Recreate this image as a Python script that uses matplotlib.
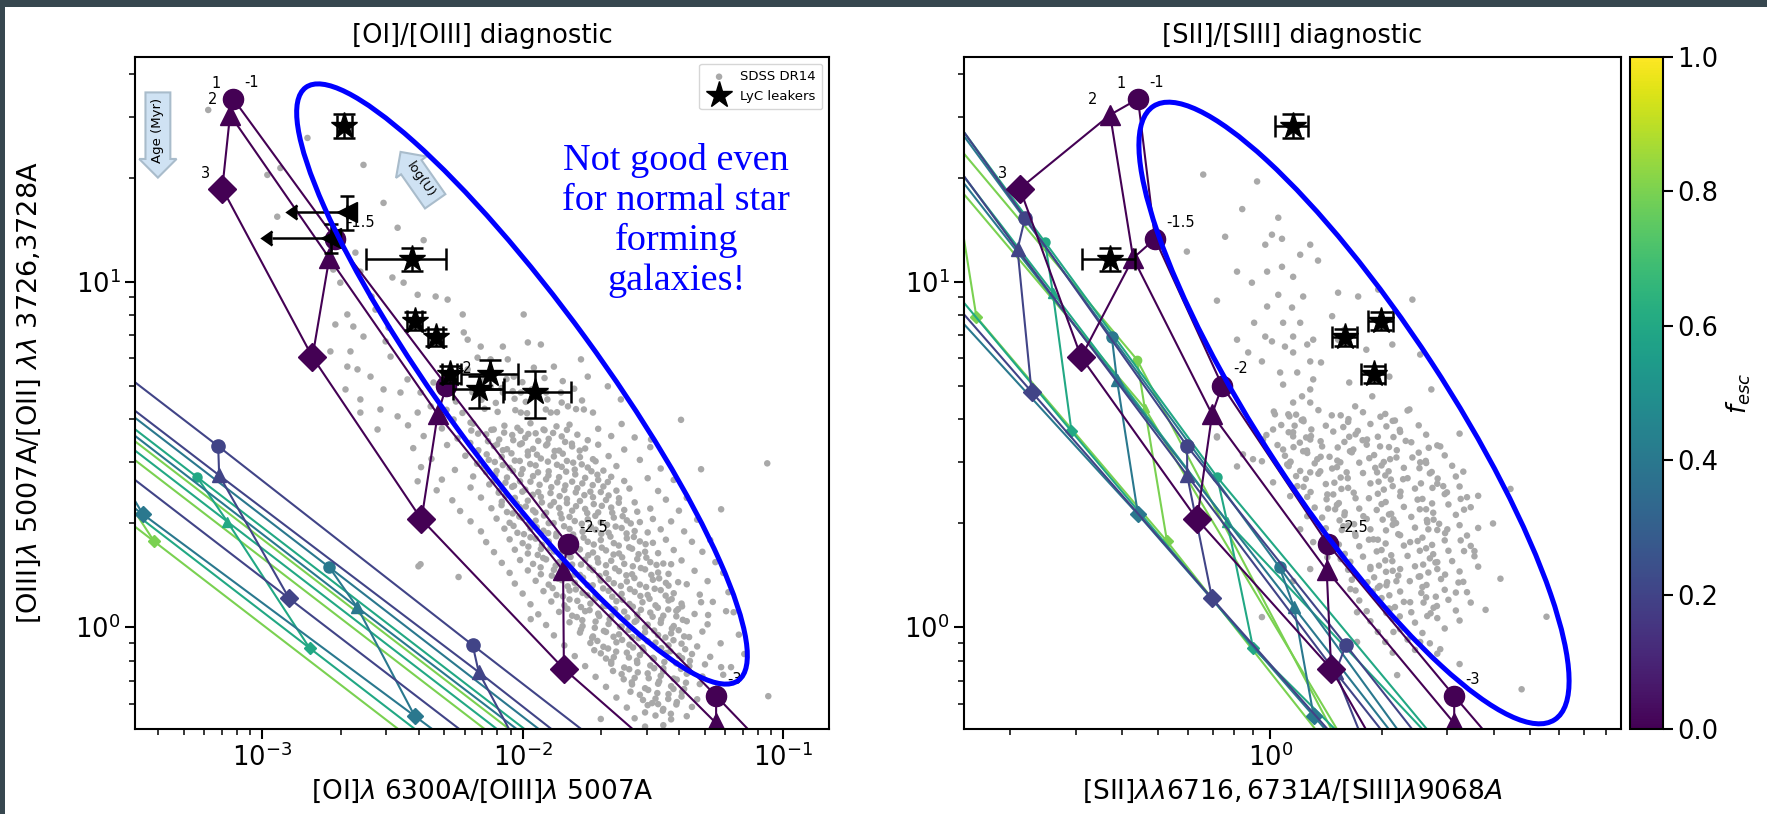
import numpy as np
import matplotlib.pyplot as plt
from matplotlib.patches import Ellipse, Rectangle

plt.rcParams['font.family'] = 'DejaVu Sans'
plt.rcParams['font.size'] = 18.5
plt.rcParams['axes.linewidth'] = 1.5
plt.rcParams['xtick.major.size'] = 7
plt.rcParams['ytick.major.size'] = 7
plt.rcParams['xtick.minor.size'] = 4
plt.rcParams['ytick.minor.size'] = 4
plt.rcParams['xtick.major.width'] = 1.5
plt.rcParams['ytick.major.width'] = 1.5
plt.rcParams['xtick.minor.width'] = 1.1
plt.rcParams['ytick.minor.width'] = 1.1

# ---- photoionisation grid -------------------------------------------------
# index order: f_esc, age (1, 2, 3 Myr), log(U) step
f_esc = [0.0, 0.2, 0.4, 0.6, 0.8]
marker_sizes = [14.5, 9.5, 8, 6.5, 6]
age_markers = ['o', '^', 'D']
age_labels = ['1', '2', '3']
logu_labels = ['-1', '-1.5', '-2', '-2.5', '-3']

grid_oiii_oii = [
    [[33.8, 13.3, 5.0, 1.74, 0.632, 0.23],
     [30.4, 11.7, 4.13, 1.46, 0.527, 0.19],
     [18.6, 6.05, 2.05, 0.757, 0.34, 0.14]],
    [[70, 15.3, 3.34, 0.887, 0.23],
     [56, 12.4, 2.75, 0.741, 0.195],
     [19.2, 4.8, 1.21, 0.33, 0.087]],
    [[31.8, 6.9, 1.49, 0.32],
     [23.7, 5.2, 1.14, 0.25],
     [8.1, 2.12, 0.553, 0.144]],
    [[62, 13.0, 2.72, 0.43],
     [42.5, 9.3, 2.02, 0.32],
     [15.7, 3.69, 0.87, 0.138]],
    [[26.6, 5.95, 0.45],
     [19.2, 4.3, 0.36],
     [7.9, 1.77, 0.17]],
]
grid_oi_oiii = [
    [[7.75e-4, 1.91e-3, 5.1e-3, 0.0149, 0.0553, 0.20],
     [7.53e-4, 1.81e-3, 4.72e-3, 0.0143, 0.0553, 0.20],
     [7.03e-4, 1.56e-3, 4.09e-3, 0.0144, 0.0484, 0.16]],
    [[3.5e-6, 4.9e-5, 6.78e-4, 6.43e-3, 0.065],
     [3.7e-6, 5.06e-5, 6.84e-4, 6.78e-3, 0.065],
     [1.1e-5, 1.18e-4, 1.27e-3, 0.012, 0.115]],
    [[9.1e-6, 1.29e-4, 1.81e-3, 0.0254],
     [1.26e-5, 1.71e-4, 2.32e-3, 0.0324],
     [3.16e-5, 3.49e-4, 3.85e-3, 0.0422]],
    [[2.5e-6, 3.8e-5, 5.62e-4, 0.0135],
     [4.0e-6, 5.3e-5, 7.35e-4, 0.0176],
     [1.05e-5, 1.26e-4, 1.52e-3, 0.0363]],
    [[1.0e-5, 1.27e-4, 0.0109],
     [1.41e-5, 1.79e-4, 0.0129],
     [2.92e-5, 3.85e-4, 0.0219]],
]
grid_sii_siii = [
    [[0.441, 0.490, 0.743, 1.43, 3.13, 7.0],
     [0.371, 0.428, 0.698, 1.42, 3.13, 7.0],
     [0.212, 0.310, 0.636, 1.46, 2.24, 5.0]],
    [[0.080, 0.219, 0.598, 1.60, 4.3],
     [0.075, 0.209, 0.598, 1.50, 4.0],
     [0.074, 0.228, 0.698, 2.03, 6.0]],
    [[0.132, 0.375, 1.06, 3.0],
     [0.129, 0.387, 1.16, 3.48],
     [0.141, 0.441, 1.31, 3.87]],
    [[0.085, 0.248, 0.72, 3.0],
     [0.088, 0.260, 0.766, 3.84],
     [0.0946, 0.292, 0.90, 5.06]],
    [[0.136, 0.438, 1.55],
     [0.142, 0.46, 1.83],
     [0.162, 0.528, 2.95]],
]

# ---- LyC leakers ------------------------------------------------------------
leaker_oiii_oii = np.array([28.2, 15.9, 13.4, 11.6, 7.7, 6.9, 5.4, 5.4, 4.9, 4.8])
leaker_y_lo = np.array([2.1, 1.8, 1.3, 0.9, 0.45, 0.4, 0.3, 0.52, 0.58, 0.76])
leaker_y_hi = np.array([2.4, 1.8, 1.3, 0.9, 0.45, 0.4, 0.3, 0.55, 0.42, 0.70])
leaker_oi = np.array([2.07e-3, 2.12e-3, 1.83e-3, 3.75e-3, 3.85e-3, 4.63e-3,
                      5.25e-3, 7.5e-3, 6.8e-3, 1.12e-2])
leaker_oi_lo = np.array([1.4e-4, 7.6e-4, 7.4e-4, 1.25e-3, 2.5e-4, 3.0e-4,
                         3.5e-4, 1.72e-3, 1.42e-3, 2.8e-3])
leaker_oi_hi = np.array([1.5e-4, 0, 0, 1.31e-3, 2.5e-4, 3.0e-4,
                         3.5e-4, 2.07e-3, 1.65e-3, 4.1e-3])
leaker_oi_limit = np.array([False, True, True, False, False, False,
                            False, False, False, False])
leaker_sii = np.array([1.153, np.nan, np.nan, 0.371, 1.99, 1.59, 1.90,
                       np.nan, np.nan, np.nan])
leaker_sii_lo = np.array([0.122, 0, 0, 0.060, 0.15, 0.12, 0.14, 0, 0, 0])
leaker_sii_hi = np.array([0.112, 0, 0, 0.062, 0.15, 0.12, 0.14, 0, 0, 0])

# ---- SDSS DR14 star-forming galaxies (log ratios) ---------------------------
sdss_log_oi = np.array([
    (-3.207, 1.497), (-2.826, 1.416), (-2.611, 1.338), (-2.930, 1.329), (-2.980, 1.309),
    (-2.534, 1.228), (-2.942, 1.188), (-2.48, 1.156), (-2.38, 1.12), (-2.642, 1.084),
    (-2.623, 1.029), (-2.727, 1.035), (-2.70, 0.997), (-2.50, 1.012), (-2.457, 0.997),
    (-2.403, 0.962), (-2.334, 0.957), (-2.288, 0.948), (-2.23, 0.905), (-2.58, 0.957),
    (-2.565, 0.919), (-2.673, 0.905), (-2.719, 0.876), (-2.65, 0.87), (-2.611, 0.841),
    (-2.515, 0.867), (-2.526, 0.827), (-2.507, 0.783), (-2.661, 0.798), (-2.673, 0.754),
    (-2.738, 0.798), (-1.996, 0.905), (-1.98, 0.824), (-1.93, 0.818), (-2.211, 0.832),
    (-2.161, 0.812), (-2.226, 0.853), (-2.076, 0.812), (-2.123, 0.775), (-2.057, 0.775),
    (-2.173, 0.78), (-2.211, 0.746), (-2.034, 0.725), (-1.957, 0.751), (-1.88, 0.754),
    (-1.776, 0.775), (-1.75, 0.725), (-1.673, 0.697), (-1.765, 0.63), (-1.853, 0.679),
    (-1.942, 0.679), (-2.007, 0.679), (-2.076, 0.679), (-1.892, 0.621), (-2.007, 0.621),
    (-1.826, 0.639), (-2.123, 0.697), (-2.392, 0.679), (-2.469, 0.679), (-2.534, 0.688),
    (-2.442, 0.717), (-2.342, 0.708), (-2.634, 0.746), (-2.584, 0.725), (-2.68, 0.688),
    (-2.623, 0.659), (-2.546, 0.63), (-2.48, 0.61), (-2.403, 0.621), (-2.353, 0.639),
    (-2.265, 0.601), (-2.2, 0.592),
    (-2.44, 0.584), (-2.31, 0.575), (-2.19, 0.589), (-2.12, 0.571), (-2.07, 0.583),
    (-2.02, 0.577), (-1.97, 0.590), (-1.92, 0.572), (-1.87, 0.581), (-1.82, 0.586),
    (-1.71, 0.574), (-1.62, 0.588),
    (-2.38, 0.553), (-2.25, 0.546), (-2.14, 0.558), (-2.09, 0.543), (-2.04, 0.556),
    (-1.99, 0.548), (-1.95, 0.561), (-1.90, 0.545), (-1.85, 0.552), (-1.79, 0.557),
    (-1.75, 0.541), (-1.66, 0.553), (-1.57, 0.549),
    (-2.42, 0.518), (-2.29, 0.527), (-2.17, 0.512), (-2.11, 0.524), (-2.06, 0.515),
    (-2.01, 0.529), (-1.96, 0.516), (-1.91, 0.526), (-1.86, 0.511), (-1.81, 0.523),
    (-1.76, 0.517), (-1.71, 0.528), (-1.61, 0.514), (-1.51, 0.521),
    (-2.35, 0.487), (-2.22, 0.496), (-2.13, 0.484), (-2.08, 0.493), (-2.03, 0.482),
    (-1.98, 0.497), (-1.93, 0.488), (-1.88, 0.494), (-1.83, 0.481), (-1.78, 0.492),
    (-1.73, 0.486), (-1.67, 0.495), (-1.55, 0.484),
    (-2.39, 0.463), (-2.26, 0.455), (-2.15, 0.466), (-2.10, 0.452), (-2.05, 0.461),
    (-2.00, 0.457), (-1.95, 0.468), (-1.90, 0.451), (-1.85, 0.464), (-1.80, 0.456),
    (-1.75, 0.462), (-1.69, 0.453), (-1.64, 0.466), (-1.47, 0.459),
    (-2.31, 0.427), (-2.19, 0.436), (-2.11, 0.424), (-2.06, 0.433), (-2.01, 0.422),
    (-1.96, 0.437), (-1.91, 0.428), (-1.86, 0.434), (-1.81, 0.421), (-1.76, 0.432),
    (-1.71, 0.426), (-1.66, 0.435), (-1.61, 0.423), (-1.52, 0.431), (-1.42, 0.426),
    (-2.33, 0.396), (-2.20, 0.404), (-2.09, 0.393), (-2.04, 0.406), (-1.99, 0.398),
    (-1.94, 0.391), (-1.89, 0.405), (-1.84, 0.397), (-1.79, 0.402), (-1.74, 0.392),
    (-1.69, 0.407), (-1.64, 0.395), (-1.59, 0.401), (-1.48, 0.394),
    (-2.27, 0.367), (-2.16, 0.375), (-2.08, 0.363), (-2.03, 0.374), (-1.98, 0.366),
    (-1.93, 0.377), (-1.88, 0.362), (-1.83, 0.371), (-1.78, 0.365), (-1.73, 0.376),
    (-1.68, 0.368), (-1.63, 0.373), (-1.57, 0.361), (-1.45, 0.369), (-1.37, 0.374),
    (-2.24, 0.336), (-2.12, 0.344), (-2.06, 0.333), (-2.01, 0.347), (-1.96, 0.338),
    (-1.91, 0.331), (-1.86, 0.345), (-1.81, 0.337), (-1.76, 0.342), (-1.71, 0.332),
    (-1.66, 0.346), (-1.61, 0.339), (-1.56, 0.334), (-1.51, 0.343), (-1.40, 0.337),
    (-2.20, 0.306), (-2.10, 0.314), (-2.05, 0.302), (-2.00, 0.316), (-1.95, 0.308),
    (-1.90, 0.301), (-1.85, 0.315), (-1.80, 0.307), (-1.75, 0.312), (-1.70, 0.303),
    (-1.65, 0.317), (-1.60, 0.309), (-1.55, 0.304), (-1.50, 0.313), (-1.43, 0.306),
    (-1.33, 0.311),
    (-2.16, 0.277), (-2.07, 0.285), (-2.02, 0.273), (-1.97, 0.286), (-1.92, 0.279),
    (-1.87, 0.271), (-1.82, 0.284), (-1.77, 0.276), (-1.72, 0.282), (-1.67, 0.273),
    (-1.62, 0.287), (-1.57, 0.278), (-1.52, 0.274), (-1.47, 0.283), (-1.38, 0.277),
    (-2.14, 0.246), (-2.05, 0.254), (-2.00, 0.243), (-1.95, 0.256), (-1.90, 0.248),
    (-1.85, 0.241), (-1.80, 0.255), (-1.75, 0.247), (-1.70, 0.252), (-1.65, 0.243),
    (-1.60, 0.257), (-1.55, 0.248), (-1.50, 0.244), (-1.45, 0.253), (-1.35, 0.247),
    (-1.28, 0.252),
    (-2.11, 0.217), (-2.03, 0.224), (-1.98, 0.213), (-1.93, 0.226), (-1.88, 0.219),
    (-1.83, 0.211), (-1.78, 0.225), (-1.73, 0.216), (-1.68, 0.222), (-1.63, 0.213),
    (-1.58, 0.227), (-1.53, 0.218), (-1.48, 0.214), (-1.42, 0.223), (-1.31, 0.218),
    (-2.08, 0.186), (-2.01, 0.194), (-1.96, 0.183), (-1.91, 0.196), (-1.86, 0.188),
    (-1.81, 0.181), (-1.76, 0.195), (-1.71, 0.187), (-1.66, 0.192), (-1.61, 0.183),
    (-1.56, 0.197), (-1.51, 0.188), (-1.46, 0.184), (-1.39, 0.193), (-1.26, 0.188),
    (-2.05, 0.157), (-1.98, 0.164), (-1.93, 0.153), (-1.88, 0.166), (-1.83, 0.159),
    (-1.78, 0.151), (-1.73, 0.165), (-1.68, 0.156), (-1.63, 0.162), (-1.58, 0.153),
    (-1.53, 0.167), (-1.48, 0.158), (-1.44, 0.154), (-1.34, 0.163), (-1.23, 0.157),
    (-2.03, 0.126), (-1.95, 0.134), (-1.90, 0.123), (-1.85, 0.136), (-1.80, 0.128),
    (-1.75, 0.121), (-1.70, 0.135), (-1.65, 0.127), (-1.60, 0.132), (-1.55, 0.123),
    (-1.50, 0.137), (-1.45, 0.128), (-1.37, 0.124), (-1.29, 0.133),
    (-2.00, 0.097), (-1.92, 0.104), (-1.87, 0.093), (-1.82, 0.106), (-1.77, 0.099),
    (-1.72, 0.091), (-1.67, 0.105), (-1.62, 0.096), (-1.57, 0.102), (-1.52, 0.093),
    (-1.47, 0.107), (-1.42, 0.098), (-1.32, 0.094), (-1.21, 0.101),
    (-1.97, 0.066), (-1.89, 0.074), (-1.84, 0.063), (-1.79, 0.076), (-1.74, 0.068),
    (-1.69, 0.061), (-1.64, 0.075), (-1.59, 0.067), (-1.54, 0.072), (-1.49, 0.063),
    (-1.44, 0.077), (-1.39, 0.068), (-1.27, 0.073),
    (-1.94, 0.037), (-1.86, 0.044), (-1.81, 0.033), (-1.76, 0.046), (-1.71, 0.039),
    (-1.66, 0.031), (-1.61, 0.045), (-1.56, 0.036), (-1.51, 0.042), (-1.46, 0.033),
    (-1.41, 0.047), (-1.34, 0.038), (-1.19, 0.043),
    (-1.91, 0.006), (-1.82, 0.014), (-1.77, 0.003), (-1.72, 0.016), (-1.67, 0.009),
    (-1.62, 0.001), (-1.57, 0.015), (-1.52, 0.007), (-1.47, 0.012), (-1.42, 0.003),
    (-1.37, 0.017), (-1.29, 0.008),
    (-1.88, -0.024), (-1.78, -0.016), (-1.73, -0.027), (-1.68, -0.014), (-1.63, -0.021),
    (-1.58, -0.029), (-1.53, -0.015), (-1.48, -0.023), (-1.43, -0.018), (-1.38, -0.027),
    (-1.31, -0.013), (-1.17, -0.022),
    (-1.84, -0.053), (-1.74, -0.046), (-1.69, -0.057), (-1.64, -0.044), (-1.59, -0.051),
    (-1.54, -0.059), (-1.49, -0.045), (-1.44, -0.053), (-1.39, -0.048), (-1.33, -0.056),
    (-1.24, -0.047),
    (-1.80, -0.084), (-1.70, -0.076), (-1.65, -0.087), (-1.60, -0.074), (-1.55, -0.081),
    (-1.50, -0.089), (-1.45, -0.075), (-1.40, -0.083), (-1.35, -0.078), (-1.28, -0.086),
    (-1.76, -0.113), (-1.66, -0.106), (-1.61, -0.117), (-1.56, -0.104), (-1.51, -0.111),
    (-1.46, -0.119), (-1.41, -0.105), (-1.36, -0.113), (-1.30, -0.108), (-1.20, -0.116),
    (-1.72, -0.144), (-1.62, -0.136), (-1.57, -0.147), (-1.52, -0.134), (-1.47, -0.141),
    (-1.42, -0.149), (-1.37, -0.135), (-1.31, -0.143), (-1.23, -0.138),
    (-1.68, -0.173), (-1.58, -0.166), (-1.53, -0.177), (-1.48, -0.164), (-1.43, -0.171),
    (-1.38, -0.179), (-1.32, -0.165), (-1.25, -0.174),
    (-1.64, -0.204), (-1.55, -0.196), (-1.49, -0.207), (-1.44, -0.194), (-1.39, -0.201),
    (-1.33, -0.209), (-1.27, -0.198),
    (-1.60, -0.233), (-1.52, -0.226), (-1.46, -0.237), (-1.41, -0.224), (-1.35, -0.231),
    (-1.57, -0.264), (-1.49, -0.256), (-1.43, -0.267), (-1.37, -0.258),
    (-1.53, -0.288), (-1.46, -0.284),
    (-2.403, 0.422), (-2.40, 0.176), (-2.246, 0.145), (-2.557, 0.572), (-2.623, 0.621),
    (-2.392, 0.182), (-1.969, 0.023), (-1.70, -0.266), (-1.48, -0.223), (-1.057, -0.20),
    (-1.238, -0.116), (-1.403, 0.052), (-1.315, 0.072), (-1.288, 0.035), (-1.219, 0.046),
    (-1.149, -0.078), (-1.403, 0.13), (-1.43, 0.182), (-1.061, 0.474), (-1.392, 0.60),
    (-1.315, 0.457), (-1.238, 0.341), (-1.507, 0.543), (-1.623, 0.659),
    # densest part of the locus
    (-2.292, 0.629), (-2.231, 0.620), (-2.146, 0.632), (-2.096, 0.623), (-2.028, 0.628),
    (-1.983, 0.619), (-1.911, 0.630), (-1.868, 0.622), (-1.795, 0.631), (-1.730, 0.621),
    (-2.256, 0.653), (-2.158, 0.658), (-2.103, 0.649), (-2.031, 0.661), (-1.988, 0.652),
    (-1.905, 0.659), (-1.850, 0.650), (-1.772, 0.656),
    (-2.268, 0.689), (-2.193, 0.680), (-2.081, 0.692), (-2.038, 0.683), (-1.965, 0.688),
    (-1.910, 0.679), (-1.802, 0.690),
    (-2.150, 0.713), (-2.062, 0.718), (-2.001, 0.709), (-1.916, 0.721), (-1.846, 0.712),
    (-2.197, 0.569), (-2.171, 0.560), (-2.111, 0.572), (-2.071, 0.563), (-2.008, 0.568),
    (-1.978, 0.559), (-1.916, 0.570), (-1.883, 0.562), (-1.830, 0.571),
    (-2.201, 0.533), (-2.133, 0.538), (-2.098, 0.529), (-2.036, 0.541), (-2.003, 0.532),
    (-1.940, 0.539), (-1.905, 0.530), (-1.837, 0.536), (-1.811, 0.531),
    (-2.173, 0.509), (-2.138, 0.500), (-2.076, 0.512), (-2.043, 0.503), (-1.980, 0.508),
    (-1.945, 0.499), (-1.877, 0.510), (-1.846, 0.502), (-1.781, 0.511),
    (-2.175, 0.473), (-2.107, 0.478), (-2.076, 0.469), (-2.011, 0.481), (-1.971, 0.472),
    (-1.903, 0.479), (-1.868, 0.470), (-1.806, 0.476), (-1.773, 0.471), (-1.720, 0.480),
    (-2.140, 0.449), (-2.105, 0.440), (-2.037, 0.452), (-2.006, 0.443), (-1.941, 0.448),
    (-1.901, 0.439), (-1.833, 0.450), (-1.798, 0.442), (-1.736, 0.451), (-1.713, 0.441),
    (-2.128, 0.413), (-2.066, 0.418), (-2.033, 0.409), (-1.970, 0.421), (-1.935, 0.412),
    (-1.867, 0.419), (-1.836, 0.410), (-1.771, 0.416), (-1.731, 0.411), (-1.673, 0.420),
    (-2.092, 0.389), (-2.066, 0.380), (-2.001, 0.392), (-1.961, 0.383), (-1.893, 0.388),
    (-1.858, 0.379), (-1.796, 0.390), (-1.763, 0.382), (-1.700, 0.391), (-1.670, 0.381),
    (-2.081, 0.353), (-2.023, 0.358), (-1.988, 0.349), (-1.926, 0.361), (-1.893, 0.352),
    (-1.830, 0.359), (-1.795, 0.350), (-1.727, 0.356), (-1.696, 0.351), (-1.631, 0.360),
    (-2.038, 0.329), (-2.013, 0.320), (-1.951, 0.332), (-1.918, 0.323), (-1.855, 0.328),
    (-1.820, 0.319), (-1.752, 0.330), (-1.721, 0.322), (-1.656, 0.331), (-1.616, 0.321),
    (-2.035, 0.293), (-1.977, 0.298), (-1.946, 0.289), (-1.881, 0.301), (-1.841, 0.292),
    (-1.773, 0.299), (-1.738, 0.290), (-1.676, 0.296), (-1.643, 0.291), (-1.585, 0.300),
    (-1.995, 0.269), (-1.970, 0.260), (-1.902, 0.272), (-1.871, 0.263), (-1.806, 0.268),
    (-1.766, 0.259), (-1.698, 0.270), (-1.663, 0.262), (-1.601, 0.271), (-1.573, 0.261),
    (-1.978, 0.233), (-1.926, 0.238), (-1.893, 0.229), (-1.830, 0.241), (-1.795, 0.232),
    (-1.727, 0.239), (-1.696, 0.230), (-1.631, 0.236), (-1.591, 0.231), (-1.528, 0.240),
    (-1.942, 0.209), (-1.921, 0.200), (-1.856, 0.212), (-1.816, 0.203), (-1.748, 0.208),
    (-1.713, 0.199), (-1.651, 0.210), (-1.618, 0.202), (-1.555, 0.211), (-1.525, 0.201),
    (-1.931, 0.173), (-1.873, 0.178), (-1.838, 0.169), (-1.776, 0.181), (-1.743, 0.172),
    (-1.680, 0.179), (-1.645, 0.170), (-1.577, 0.176), (-1.546, 0.171), (-1.486, 0.180),
    (-1.888, 0.149), (-1.863, 0.140), (-1.801, 0.152), (-1.768, 0.143), (-1.705, 0.148),
    (-1.670, 0.139), (-1.602, 0.150), (-1.571, 0.142), (-1.506, 0.151), (-1.476, 0.141),
    (-1.885, 0.113), (-1.827, 0.118), (-1.796, 0.109), (-1.731, 0.121), (-1.691, 0.112),
    (-1.623, 0.119), (-1.588, 0.110), (-1.526, 0.116), (-1.493, 0.111), (-1.440, 0.120),
    (-1.845, 0.089), (-1.820, 0.080), (-1.752, 0.092), (-1.721, 0.083), (-1.656, 0.088),
    (-1.616, 0.079), (-1.548, 0.090), (-1.513, 0.082), (-1.451, 0.091), (-1.428, 0.081),
    (-1.828, 0.053), (-1.776, 0.058), (-1.743, 0.049), (-1.680, 0.061), (-1.645, 0.052),
    (-1.577, 0.059), (-1.546, 0.050), (-1.481, 0.056), (-1.441, 0.051), (-1.388, 0.060),
    (-1.792, 0.029), (-1.771, 0.020), (-1.706, 0.032), (-1.666, 0.023), (-1.598, 0.028),
    (-1.563, 0.019), (-1.501, 0.030), (-1.468, 0.022), (-1.410, 0.031), (-1.385, 0.021),
    (-1.776, -0.007), (-1.723, -0.002), (-1.688, -0.011), (-1.626, 0.001), (-1.593, -0.008),
    (-1.530, -0.001), (-1.495, -0.010), (-1.427, -0.004), (-1.401, -0.009),
    (-1.733, -0.031), (-1.713, -0.040), (-1.651, -0.028), (-1.618, -0.037), (-1.555, -0.032),
    (-1.520, -0.041), (-1.452, -0.030), (-1.421, -0.038), (-1.361, -0.029),
    (-1.725, -0.067), (-1.672, -0.062), (-1.641, -0.071), (-1.576, -0.059), (-1.536, -0.068),
    (-1.468, -0.061), (-1.433, -0.070), (-1.376, -0.064),
    (-1.680, -0.091), (-1.660, -0.100), (-1.592, -0.088), (-1.561, -0.097), (-1.496, -0.092),
    (-1.456, -0.101), (-1.388, -0.090), (-1.358, -0.098),
    (-1.653, -0.127), (-1.591, -0.122), (-1.558, -0.131), (-1.495, -0.119), (-1.460, -0.128),
    (-1.392, -0.121), (-1.361, -0.130),
    (-1.612, -0.151), (-1.581, -0.160), (-1.516, -0.148), (-1.476, -0.157), (-1.408, -0.152),
    (-1.373, -0.161),
    (-1.586, -0.187), (-1.518, -0.182), (-1.483, -0.191), (-1.421, -0.179), (-1.388, -0.188),
    (-1.538, -0.211), (-1.503, -0.220), (-1.441, -0.208), (-1.408, -0.217),
    (-1.530, -0.247), (-1.462, -0.242), (-1.431, -0.251),
])

sdss_log_sii = np.array([
    (-0.18, 1.31), (-0.035, 1.29), (-0.075, 1.21), (0.022, 1.185), (-0.121, 1.13),
    (0.005, 1.136), (0.032, 1.124), (0.108, 1.107), (-0.013, 1.107), (-0.224, 1.087),
    (0.081, 1.078), (0.129, 1.061), (-0.089, 1.029), (-0.049, 0.997), (-0.008, 1.029),
    (0.032, 1.043), (0.062, 1.014), (0.089, 0.957), (0.022, 0.962), (0.059, 0.925),
    (-0.008, 0.928), (-0.143, 0.945), (-0.043, 0.881), (0.035, 0.881), (0.081, 0.881),
    (0.062, 0.841), (0.10, 0.818), (-0.089, 0.832), (-0.013, 0.841), (0.005, 0.827),
    (0.040, 0.812), (0.116, 0.832), (-0.059, 0.795), (-0.022, 0.769), (0.062, 0.795),
    (0.108, 0.769), (0.073, 0.737), (0.116, 0.717), (0.027, 0.737), (0.035, 0.702),
    (0.086, 0.668), (0.108, 0.65), (0.062, 0.65), (0.049, 0.616), (0.089, 0.601),
    (0.013, 0.616), (0.008, 0.572), (0.062, 0.564), (0.108, 0.543), (0.089, 0.509),
    (0.035, 0.514), (-0.019, 0.543), (-0.046, 0.486), (0.046, 0.471), (0.127, 0.486),
    (-0.143, 0.552), (-0.089, 0.465), (0.062, 1.434),
    (0.383, 0.948), (0.291, 0.977), (0.237, 0.957), (0.183, 0.968), (0.167, 0.90),
    (0.2, 0.861), (0.259, 0.803), (0.329, 0.818), (0.434, 0.688), (0.375, 0.63),
    (0.404, 0.789), (0.183, 0.832), (0.137, 0.766), (0.213, 0.708), (0.275, 0.668),
    (0.321, 0.725), (0.229, 0.639), (0.108, 0.688),
    (-0.143, 0.549), (-0.073, 0.50), (-0.022, 0.48), (0.054, 0.477), (0.062, 0.552),
    (0.108, 0.448), (0.10, 0.321), (0.154, 0.384), (0.135, 0.451), (0.175, 0.341),
    (0.197, 0.292), (0.189, 0.477), (0.224, 0.514), (0.261, 0.543), (0.288, 0.448),
    (0.323, 0.486), (0.358, 0.428), (0.404, 0.477), (0.458, 0.523), (0.466, 0.408),
    (0.332, 0.312), (0.278, 0.254), (0.251, 0.321), (0.377, 0.246), (0.423, 0.303),
    (0.477, 0.283), (0.27, 0.168), (0.315, 0.13), (0.35, 0.168), (0.404, 0.147),
    (0.45, 0.188), (0.323, 0.052), (0.377, 0.072), (0.423, 0.032), (0.332, -0.014),
    (0.404, -0.043), (0.458, -0.064), (0.234, -0.043), (0.234, 0.043), (0.216, 0.11),
    (-0.022, 0.029), (0.062, 0.133), (0.108, 0.168), (0.154, 0.202), (0.081, 0.283),
    (0.116, 0.246), (0.054, 0.379), (0.008, 0.419), (0.073, 0.408),
    (0.52, 0.45), (0.56, 0.38), (0.60, 0.30), (0.55, 0.22), (0.62, 0.14),
    (0.50, 0.10), (0.58, 0.05), (0.647, 0.40), (0.51, 0.56), (0.744, 0.03),
    (0.51, -0.107), (0.677, -0.18), (0.342, -0.139), (0.313, 0.121),
    (0.01, 0.624), (0.07, 0.615), (0.13, 0.628), (0.19, 0.613), (0.25, 0.622),
    (0.31, 0.617), (0.37, 0.627),
    (0.03, 0.585), (0.09, 0.596), (0.15, 0.583), (0.21, 0.594), (0.27, 0.588),
    (0.33, 0.597), (0.40, 0.584),
    (-0.01, 0.556), (0.05, 0.564), (0.11, 0.553), (0.17, 0.566), (0.23, 0.558),
    (0.29, 0.551), (0.35, 0.565), (0.42, 0.557),
    (0.02, 0.527), (0.08, 0.534), (0.14, 0.523), (0.20, 0.536), (0.26, 0.528),
    (0.32, 0.521), (0.38, 0.535), (0.45, 0.526),
    (0.04, 0.496), (0.10, 0.504), (0.16, 0.493), (0.22, 0.506), (0.28, 0.498),
    (0.34, 0.491), (0.40, 0.505), (0.47, 0.497),
    (0.05, 0.466), (0.12, 0.474), (0.18, 0.463), (0.24, 0.476), (0.30, 0.468),
    (0.36, 0.461), (0.42, 0.475), (0.49, 0.467),
    (0.07, 0.437), (0.13, 0.444), (0.19, 0.433), (0.25, 0.446), (0.31, 0.439),
    (0.37, 0.431), (0.43, 0.445), (0.50, 0.436),
    (0.09, 0.406), (0.15, 0.414), (0.21, 0.403), (0.27, 0.416), (0.33, 0.408),
    (0.39, 0.401), (0.45, 0.415), (0.51, 0.407),
    (0.10, 0.377), (0.17, 0.384), (0.23, 0.373), (0.29, 0.386), (0.35, 0.379),
    (0.41, 0.371), (0.47, 0.385), (0.53, 0.376),
    (0.12, 0.346), (0.18, 0.354), (0.24, 0.343), (0.30, 0.356), (0.36, 0.348),
    (0.42, 0.341), (0.48, 0.355), (0.54, 0.347),
    (0.14, 0.317), (0.20, 0.324), (0.26, 0.313), (0.32, 0.326), (0.38, 0.319),
    (0.44, 0.311), (0.50, 0.325),
    (0.15, 0.286), (0.21, 0.294), (0.27, 0.283), (0.33, 0.296), (0.39, 0.288),
    (0.45, 0.281), (0.51, 0.295), (0.56, 0.287),
    (0.17, 0.257), (0.23, 0.264), (0.29, 0.253), (0.35, 0.266), (0.41, 0.259),
    (0.47, 0.251), (0.53, 0.265),
    (0.18, 0.226), (0.24, 0.234), (0.30, 0.223), (0.36, 0.236), (0.42, 0.228),
    (0.48, 0.221), (0.54, 0.235),
    (0.19, 0.197), (0.25, 0.204), (0.31, 0.193), (0.37, 0.206), (0.43, 0.199),
    (0.49, 0.191), (0.55, 0.205),
    (0.21, 0.166), (0.27, 0.174), (0.33, 0.163), (0.39, 0.176), (0.45, 0.168),
    (0.51, 0.161), (0.56, 0.175),
    (0.22, 0.137), (0.28, 0.144), (0.34, 0.133), (0.40, 0.146), (0.46, 0.139),
    (0.52, 0.131),
    (0.23, 0.106), (0.29, 0.114), (0.35, 0.103), (0.41, 0.116), (0.47, 0.108),
    (0.53, 0.101),
    (0.24, 0.077), (0.30, 0.084), (0.36, 0.073), (0.42, 0.086), (0.48, 0.079),
    (0.54, 0.071),
    (0.26, 0.046), (0.32, 0.054), (0.38, 0.043), (0.44, 0.056), (0.50, 0.048),
    (0.27, 0.017), (0.33, 0.024), (0.39, 0.013), (0.45, 0.026), (0.51, 0.019),
    (0.29, -0.014), (0.35, -0.006), (0.41, -0.017), (0.47, -0.004),
    (0.31, -0.043), (0.37, -0.036), (0.43, -0.047),
    (0.33, -0.074), (0.39, -0.066), (0.45, -0.077),
    # central clump
    (0.052, 0.610), (0.085, 0.599), (0.166, 0.613), (0.211, 0.602), (0.297, 0.609),
    (0.336, 0.598),
    (0.066, 0.583), (0.111, 0.572), (0.197, 0.579), (0.236, 0.568), (0.313, 0.581),
    (0.349, 0.571),
    (0.097, 0.549), (0.136, 0.538), (0.213, 0.551), (0.249, 0.541), (0.332, 0.550),
    (0.365, 0.539),
    (0.063, 0.521), (0.099, 0.511), (0.182, 0.520), (0.215, 0.509), (0.296, 0.523),
    (0.341, 0.512), (0.427, 0.519),
    (0.055, 0.479), (0.136, 0.493), (0.181, 0.482), (0.267, 0.489), (0.306, 0.478),
    (0.383, 0.491), (0.419, 0.481),
    (0.081, 0.452), (0.167, 0.459), (0.206, 0.448), (0.283, 0.461), (0.319, 0.451),
    (0.402, 0.460), (0.435, 0.449),
    (0.096, 0.429), (0.173, 0.418), (0.209, 0.431), (0.292, 0.421), (0.325, 0.427),
    (0.406, 0.416), (0.451, 0.430),
    (0.109, 0.391), (0.192, 0.400), (0.225, 0.389), (0.306, 0.398), (0.351, 0.392),
    (0.437, 0.403), (0.476, 0.390),
    (0.152, 0.370), (0.185, 0.359), (0.266, 0.373), (0.311, 0.362), (0.397, 0.369),
    (0.436, 0.358), (0.513, 0.371),
    (0.156, 0.343), (0.201, 0.332), (0.287, 0.339), (0.326, 0.328), (0.403, 0.341),
    (0.439, 0.331), (0.522, 0.340),
    (0.187, 0.309), (0.226, 0.298), (0.303, 0.311), (0.339, 0.301), (0.422, 0.310),
    (0.455, 0.299),
    (0.193, 0.281), (0.229, 0.271), (0.312, 0.280), (0.345, 0.269), (0.426, 0.283),
    (0.471, 0.272),
    (0.185, 0.239), (0.266, 0.253), (0.311, 0.242), (0.397, 0.249), (0.436, 0.238),
    (0.513, 0.251),
    (0.201, 0.212), (0.287, 0.219), (0.326, 0.208), (0.403, 0.221), (0.439, 0.211),
    (0.522, 0.220),
    (0.216, 0.189), (0.293, 0.178), (0.329, 0.191), (0.412, 0.181), (0.445, 0.187),
    (0.229, 0.151), (0.312, 0.160), (0.345, 0.149), (0.426, 0.158), (0.471, 0.152),
    (0.262, 0.130), (0.295, 0.119), (0.376, 0.133), (0.421, 0.122), (0.507, 0.129),
    (0.276, 0.103), (0.321, 0.092), (0.407, 0.099), (0.446, 0.088),
    (0.297, 0.069), (0.336, 0.058), (0.413, 0.071), (0.449, 0.061),
    (0.313, 0.041), (0.349, 0.031), (0.432, 0.040),
])

W, H = 1767, 814
fig = plt.figure(figsize=(W / 100, H / 100), dpi=100)
fig.patch.set_facecolor('#37474f')
fig.add_artist(Rectangle((5 / W, 0), 1 - 5 / W, 1 - 7 / H, transform=fig.transFigure,
                         facecolor='white', edgecolor='none', zorder=-10))

ax1 = fig.add_axes([135 / W, 85 / H, 694 / W, 672 / H])
ax2 = fig.add_axes([964 / W, 85 / H, 657 / W, 672 / H])
cax = fig.add_axes([1630 / W, 85 / H, 33 / W, 672 / H])

cmap = plt.get_cmap('viridis')
sdss_grey = '#a9a9a9'

ax1.scatter(10 ** sdss_log_oi[:, 0], 10 ** sdss_log_oi[:, 1], s=22, color=sdss_grey,
            edgecolors='none', zorder=1, label='SDSS DR14')
ax2.scatter(10 ** sdss_log_sii[:, 0], 10 ** sdss_log_sii[:, 1], s=22, color=sdss_grey,
            edgecolors='none', zorder=1)

for ax, grid_x in ((ax1, grid_oi_oiii), (ax2, grid_sii_siii)):
    for k in range(len(f_esc) - 1, -1, -1):
        col = cmap(f_esc[k])
        xs, ys = grid_x[k], grid_oiii_oii[k]
        for a in range(3):
            ax.plot(xs[a], ys[a], color=col, lw=1.5, marker=age_markers[a],
                    ms=marker_sizes[k], zorder=2)
        for i in range(len(ys[0])):
            ax.plot([xs[a][i] for a in range(3)], [ys[a][i] for a in range(3)],
                    color=col, lw=1.5, zorder=2)
    # age and log(U) labels along the f_esc = 0 track
    xs, ys = grid_x[0], grid_oiii_oii[0]
    for a in range(3):
        ax.annotate(age_labels[a], (xs[a][0], ys[a][0]), xytext=(-9, 11),
                    textcoords='offset points', ha='right', va='center', fontsize=10.5)
    for i, lab in enumerate(logu_labels):
        ax.annotate(lab, (xs[0][i], ys[0][i]), xytext=(8, 12),
                    textcoords='offset points', ha='left', va='center', fontsize=10.5)

# leakers: [OI]/[OIII] panel
ok = ~leaker_oi_limit
ax1.errorbar(leaker_oi[ok], leaker_oiii_oii[ok],
             xerr=[leaker_oi_lo[ok], leaker_oi_hi[ok]],
             yerr=[leaker_y_lo[ok], leaker_y_hi[ok]],
             fmt='none', ecolor='k', elinewidth=1.8, capsize=8, capthick=1.8, zorder=4)
lim = ax1.errorbar(leaker_oi[~ok], leaker_oiii_oii[~ok],
                   xerr=[leaker_oi_lo[~ok], leaker_oi_hi[~ok]],
                   yerr=[leaker_y_lo[~ok], leaker_y_hi[~ok]], xuplims=True,
                   fmt='none', ecolor='k', elinewidth=1.8, capsize=5, capthick=1.8,
                   zorder=4)
for cap in lim.lines[1]:
    cap.set_color('k')
    cap.set_markerfacecolor('k')
    cap.set_markeredgecolor('k')
ax1.plot(leaker_oi[ok], leaker_oiii_oii[ok], '*', color='k', ms=20, zorder=5,
         label='LyC leakers')
ax1.plot(leaker_oi[~ok], leaker_oiii_oii[~ok], '<', color='k', ms=14, zorder=5)

# leakers: [SII]/[SIII] panel
has = ~np.isnan(leaker_sii)
ax2.errorbar(leaker_sii[has], leaker_oiii_oii[has],
             xerr=[leaker_sii_lo[has], leaker_sii_hi[has]],
             yerr=[leaker_y_lo[has], leaker_y_hi[has]],
             fmt='none', ecolor='k', elinewidth=1.8, capsize=8, capthick=1.8, zorder=4)
ax2.plot(leaker_sii[has], leaker_oiii_oii[has], '*', color='k', ms=20, zorder=5)

for ax in (ax1, ax2):
    ax.set_xscale('log')
    ax.set_yscale('log')
    ax.set_ylim(0.507, 44.7)
ax1.set_xlim(3.25e-4, 0.15)
ax2.set_xlim(0.15, 8.8)

ax1.set_title('[OI]/[OIII] diagnostic', pad=10, fontsize=18.5)
ax2.set_title('[SII]/[SIII] diagnostic', pad=10, fontsize=18.5)
ax1.set_xlabel(r'[OI]$\lambda$ 6300A/[OIII]$\lambda$ 5007A', fontsize=19)
ax2.set_xlabel(r'[SII]$\lambda\lambda 6716, 6731A$/[SIII]$\lambda 9068A$', fontsize=19)
ax1.set_ylabel(r'[OIII]$\lambda$ 5007A/[OII] $\lambda\lambda$ 3726,3728A',
               fontsize=19.5, labelpad=23)

ax1.legend(loc='upper right', fontsize=9.5, handletextpad=0.6, borderpad=0.5)

box = dict(boxstyle='larrow,pad=0.45', facecolor='#cfe2f3', edgecolor='#a9bccb', lw=1.5)
ax1.text(0.033, 0.89, 'Age (Myr)', transform=ax1.transAxes, rotation=90, fontsize=9.5,
         ha='center', va='center', bbox=box, zorder=6)
ax1.text(0.411, 0.817, 'log(U)', transform=ax1.transAxes, rotation=-55, fontsize=9.5,
         ha='center', va='center', bbox=box, zorder=6)

ax1.text(0.78, 0.757, 'Not good even\nfor normal star\nforming\ngalaxies!',
         transform=ax1.transAxes, color='blue', fontsize=27.5, family='Liberation Serif',
         ha='center', va='center', multialignment='center', linespacing=1.2, zorder=7)

# outlines around the SDSS locus (figure inches)
for (cx, cy), w, h, ang in (((5.22, 4.30), 7.34, 1.57, -53.9),
                            ((13.54, 4.01), 7.33, 1.85, -56.8)):
    fig.add_artist(Ellipse((cx, cy), w, h, angle=ang, transform=fig.dpi_scale_trans,
                           fill=False, edgecolor='#0000ff', lw=3.6, zorder=8))

sm = plt.cm.ScalarMappable(cmap=cmap, norm=plt.Normalize(0, 1))
cb = fig.colorbar(sm, cax=cax)
cb.set_ticks([0.0, 0.2, 0.4, 0.6, 0.8, 1.0])
cb.set_label(r'$f_{esc}$')
cb.outline.set_linewidth(1.5)

fig.savefig('out.png', dpi=100)
